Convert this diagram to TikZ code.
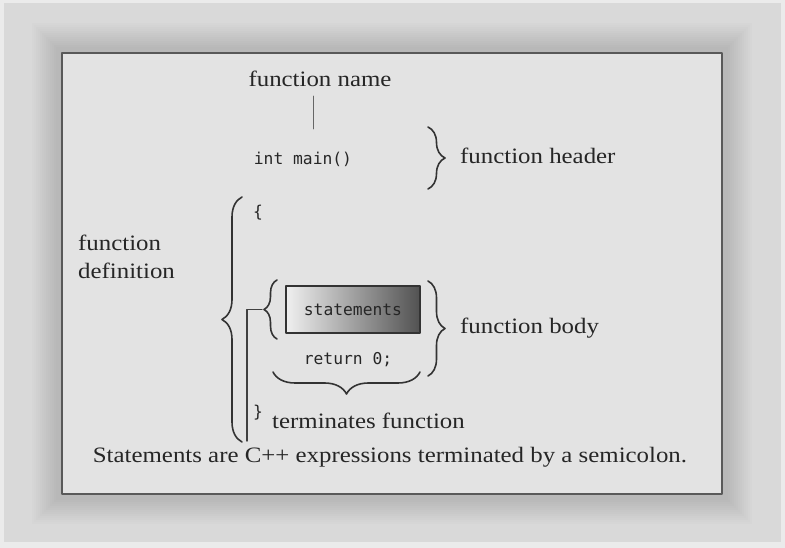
\documentclass[tikz,border=0pt]{standalone}
\usepackage{fontspec}
\setmainfont{Liberation Serif}[FakeStretch=1.13]
\setmonofont{DejaVu Sans Mono}
\usetikzlibrary{decorations.pathreplacing}

\begin{document}
\begin{tikzpicture}[x=1pt, y=1pt, line join=round, line cap=round,
		lbl/.style={font=\fontsize{22}{28}\selectfont, text=black!85, inner sep=0pt},
		code/.style={font=\ttfamily\fontsize{16.3}{18}\selectfont, text=black!85, inner sep=0pt},
		brc/.style={decorate, decoration={brace, amplitude=#1}, line width=1.6pt, draw=black!80}]
			\def\xmin{0} \def\xmax{785}
			\def\ymin{0} \def\ymax{548}
			\useasboundingbox (\xmin,\ymin) rectangle (\xmax,\ymax);
			% frame and shadow
			\fill[black!8] (\xmin,\ymin) rectangle (\xmax,\ymax);
			\fill[black!15] (4,6) rectangle (781,545);
			\foreach \i [count=\c from 16] in {0,...,12}
				\fill[black!\c] ({32+2*\i},{24+2*\i}) rectangle ({752-2*\i},{525-2*\i});
			\draw[line width=2pt, draw=black!65, fill=black!11] (62,54) rectangle (722,495);
			% header
			\node[lbl, anchor=base] (fname) at (320,461) {function name};
			\coordinate (ntop) at (313,452); \coordinate (nbot) at (313,419);
			\draw[black!60, line width=0.8pt] (ntop) -- (nbot);
			\node[code, anchor=base] (hdr) at (303,383) {int main()};
			\coordinate (h1) at (428,421); \coordinate (h2) at (428,359);
			\draw[brc=17] (h1) -- (h2);
			\node[lbl, anchor=base west] (fhead) at (460,384) {function header};
			% definition
			\coordinate (d1) at (242,106); \coordinate (d2) at (242,351);
			\draw[brc=20] (d1) -- (d2);
			\node[lbl, anchor=north west, align=left] (fdef) at (78,313) {function\\definition};
			\node[code] (lbrace) at (258,335) {\{};
			\node[code] (rbrace) at (258,135) {\}};
			% body
			\node[code, draw=black!80, line width=1.8pt, left color=black!6, middle color=black!30, right color=black!68,
				minimum width=134, minimum height=47] (stmts) at (353,238.5) {statements};
			\node[code] (ret) at (348,188) {return 0;};
			\coordinate (b1) at (277,209); \coordinate (b2) at (277,268);
			\draw[brc=13] (b1) -- (b2);
			\coordinate (btip) at (262,238.5); \coordinate (bfoot) at (247,107);
			\draw[black!75, line width=1.4pt] (btip) -| (bfoot);
			\coordinate (r1) at (428,267); \coordinate (r2) at (428,172);
			\draw[brc=17] (r1) -- (r2);
			\node[lbl, anchor=base west] (fbody) at (460,214) {function body};
			\coordinate (u1) at (420,176); \coordinate (u2) at (273,176);
			\draw[brc=22] (u1) -- (u2);
			\node[lbl, anchor=base west] (term) at (272,119) {terminates function};
			\node[lbl, anchor=base] (note) at (390,85) {Statements are C++ expressions terminated by a semicolon.};
		\end{tikzpicture}
\end{document}
